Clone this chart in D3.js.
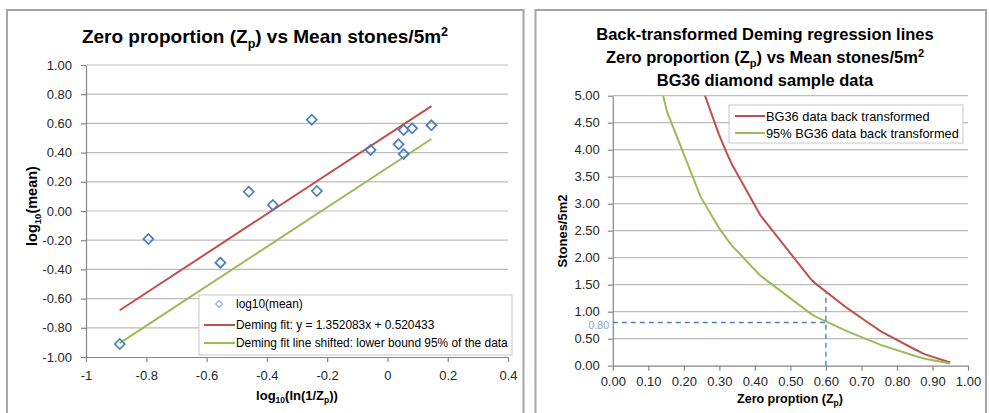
<!DOCTYPE html>
<html><head><meta charset="utf-8">
<script src="https://cdn.jsdelivr.net/npm/d3@7"></script>
<style>
body{margin:0;background:#fff}
svg text{font-family:"Liberation Sans",Arial,sans-serif}
</style>
</head><body>
<svg id="c" width="989" height="413"></svg>
<script>
// ---------- Left chart data ----------
const logX    = [-0.888,-0.793,-0.554,-0.460,-0.380,-0.251,-0.234,-0.056,0.037,0.054,0.054,0.082,0.146];
const logMean = [-0.911,-0.192,-0.354,0.132,0.041,0.625,0.137,0.418,0.457,0.555,0.390,0.566,0.587];
const fitX      = [-0.888, 0.146];
const demingY   = [-0.680, 0.718];
const shiftedY  = [-0.905, 0.493];
const leftXTicks = [-1,-0.8,-0.6,-0.4,-0.2,0,0.2,0.4];
const leftXLabels = ["-1","-0.8","-0.6","-0.4","-0.2","0","0.2","0.4"];
const leftYTicks = [-1,-0.8,-0.6,-0.4,-0.2,0,0.2,0.4,0.6,0.8,1];
const leftYLabels = ["-1.00","-0.80","-0.60","-0.40","-0.20","0.00","0.20","0.40","0.60","0.80","1.00"];
const leftLegend = ["log10(mean)","Deming fit: y = 1.352083x + 0.520433","Deming fit line shifted: lower bound 95% of the data"];

// ---------- Right chart data ----------
const zp       = [0.10,0.153,0.247,0.299,0.322,0.336,0.415,0.558,0.571,0.659,0.707,0.756,0.851,0.879,0.95];
const stonesFit= [10.2,7.76,5.23,4.28,3.92,3.72,2.79,1.60,1.52,1.07,0.85,0.63,0.30,0.21,0.06];
const stones95 = [6.10,4.70,3.13,2.55,2.34,2.22,1.67,0.96,0.91,0.64,0.51,0.38,0.18,0.13,0.04];
const rightXTicks = [0,0.1,0.2,0.3,0.4,0.5,0.6,0.7,0.8,0.9,1.0];
const rightXLabels = ["0.00","0.10","0.20","0.30","0.40","0.50","0.60","0.70","0.80","0.90","1.00"];
const rightYTicks = [0,0.5,1,1.5,2,2.5,3,3.5,4,4.5,5];
const rightYLabels = ["0.00","0.50","1.00","1.50","2.00","2.50","3.00","3.50","4.00","4.50","5.00"];
const refZp = [0.60], refStones = [0.80], refTop = [1.35];
const rightLegend = ["BG36 data back transformed","95% BG36 data back transformed"];

const RED = "#c0504d", GREEN = "#9bbb59", BLUE = "#4a7ebb", AX = "#868686", GRID = "#bdbdbd", TXT = "#262626";
const FONT = '"Liberation Sans",Arial,sans-serif';

const svg = d3.select("#c");

// panel borders
svg.append("rect").attr("x",7).attr("y",10).attr("width",516.5).attr("height",420)
  .attr("fill","#fff").attr("stroke","#a6a6a6").attr("stroke-width",2);
svg.append("rect").attr("x",535.5).attr("y",10).attr("width",450.5).attr("height",420)
  .attr("fill","#fff").attr("stroke","#a6a6a6").attr("stroke-width",2);

function styleAxis(g){
  g.select(".domain").attr("stroke",AX).attr("stroke-width",1.2);
  g.selectAll(".tick line").attr("stroke",AX).attr("stroke-width",1.2);
  g.selectAll(".tick text").attr("fill",TXT).attr("font-size",13).attr("font-family",FONT);
}

// ================= LEFT CHART =================
const xL = d3.scaleLinear().domain([-1,0.4]).range([86,508]);
const yL = d3.scaleLinear().domain([-1,1]).range([357,65]);

svg.append("g").selectAll("line").data(leftYTicks.slice(1)).join("line")
  .attr("x1",xL(-1)).attr("x2",xL(0.4)).attr("y1",d=>yL(d)).attr("y2",d=>yL(d))
  .attr("stroke",GRID).attr("stroke-width",1.2);

const gxL = svg.append("g").attr("transform",`translate(0,${yL(-1)})`)
  .call(d3.axisBottom(xL).tickValues(leftXTicks).tickFormat((d,i)=>leftXLabels[i]).tickSize(5).tickSizeOuter(0).tickPadding(9));
styleAxis(gxL);
const gyL = svg.append("g").attr("transform",`translate(${xL(-1)},0)`)
  .call(d3.axisLeft(yL).tickValues(leftYTicks).tickFormat((d,i)=>leftYLabels[i]).tickSize(5).tickSizeOuter(0).tickPadding(9));
styleAxis(gyL);

const lineL = d3.line().x(d=>xL(d[0])).y(d=>yL(d[1]));
svg.append("path").attr("d",lineL(fitX.map((x,i)=>[x,demingY[i]]))).attr("stroke",RED).attr("stroke-width",2).attr("fill","none");
svg.append("path").attr("d",lineL(fitX.map((x,i)=>[x,shiftedY[i]]))).attr("stroke",GREEN).attr("stroke-width",2).attr("fill","none");

const diamond = d3.symbol().type(d3.symbolDiamond2).size(64);
svg.append("g").selectAll("path").data(logX.map((x,i)=>[x,logMean[i]])).join("path")
  .attr("d",diamond).attr("transform",d=>`translate(${xL(d[0])},${yL(d[1])})`)
  .attr("fill","none").attr("stroke",BLUE).attr("stroke-width",1.7);

// title
const tL = svg.append("text").attr("x",265).attr("y",43).attr("text-anchor","middle")
  .attr("font-weight","bold").attr("font-size",19).attr("fill","#000");
tL.append("tspan").text("Zero proportion (Z");
tL.append("tspan").attr("font-size",12.5).attr("dy",4.5).text("p");
tL.append("tspan").attr("dy",-4.5).text(") vs Mean stones/5m");
tL.append("tspan").attr("font-size",12.5).attr("dy",-7.5).text("2");

// axis titles
const xtL = svg.append("text").attr("x",297).attr("y",400).attr("text-anchor","middle")
  .attr("font-weight","bold").attr("font-size",13).attr("fill","#000");
xtL.append("tspan").text("log");
xtL.append("tspan").attr("font-size",8.5).attr("dy",3).text("10");
xtL.append("tspan").attr("dy",-3).text("(ln(1/Z");
xtL.append("tspan").attr("font-size",8.5).attr("dy",3).text("p");
xtL.append("tspan").attr("dy",-3).text("))");

const ytL = svg.append("text").attr("transform","translate(37,206) rotate(-90)").attr("text-anchor","middle")
  .attr("font-weight","bold").attr("font-size",14.5).attr("fill","#000");
ytL.append("tspan").text("log");
ytL.append("tspan").attr("font-size",9.5).attr("dy",3.5).text("10");
ytL.append("tspan").attr("dy",-3.5).text("(mean)");

// legend
const lgL = svg.append("g");
lgL.append("rect").attr("x",199).attr("y",295).attr("width",313).attr("height",60)
  .attr("fill","#fff").attr("stroke","#c8c8c8").attr("stroke-width",1);
lgL.append("path").attr("d",d3.symbol().type(d3.symbolDiamond2).size(30)).attr("transform","translate(219,304)")
  .attr("fill","none").attr("stroke","#7fa6d6").attr("stroke-width",1.1);
lgL.append("line").attr("x1",204).attr("x2",235).attr("y1",325).attr("y2",325).attr("stroke",RED).attr("stroke-width",2);
lgL.append("line").attr("x1",204).attr("x2",235).attr("y1",343).attr("y2",343).attr("stroke",GREEN).attr("stroke-width",2);
[308,329,347].forEach((y,i)=>lgL.append("text").attr("x",236).attr("y",y).attr("font-size",11.9).attr("fill","#000").text(leftLegend[i]));

// ================= RIGHT CHART =================
const xR = d3.scaleLinear().domain([0,1]).range([612.8,968]);
const yR = d3.scaleLinear().domain([0,5]).range([365.7,95.7]);

svg.append("g").selectAll("line").data(rightYTicks.slice(1)).join("line")
  .attr("x1",xR(0)).attr("x2",xR(1)).attr("y1",d=>yR(d)).attr("y2",d=>yR(d))
  .attr("stroke",GRID).attr("stroke-width",1.2);

const gxR = svg.append("g").attr("transform",`translate(0,${yR(0)})`)
  .call(d3.axisBottom(xR).tickValues(rightXTicks).tickFormat((d,i)=>rightXLabels[i]).tickSize(5).tickSizeOuter(0).tickPadding(6));
styleAxis(gxR);
const gyR = svg.append("g").attr("transform",`translate(${xR(0)},0)`)
  .call(d3.axisLeft(yR).tickValues(rightYTicks).tickFormat((d,i)=>rightYLabels[i]).tickSize(5).tickSizeOuter(0).tickPadding(8));
styleAxis(gyR);

svg.append("clipPath").attr("id","clipR").append("rect")
  .attr("x",xR(0)).attr("y",yR(5)).attr("width",xR(1)-xR(0)).attr("height",yR(0)-yR(5));

const lineR = d3.line().x(d=>xR(d[0])).y(d=>yR(d[1]));
const gc = svg.append("g").attr("clip-path","url(#clipR)");
gc.append("path").attr("d",lineR(zp.map((z,i)=>[z,stonesFit[i]]))).attr("stroke",RED).attr("stroke-width",2).attr("fill","none");
gc.append("path").attr("d",lineR(zp.map((z,i)=>[z,stones95[i]]))).attr("stroke",GREEN).attr("stroke-width",2).attr("fill","none");

// reference dashed lines
svg.append("line").attr("x1",xR(0)).attr("x2",xR(refZp[0])).attr("y1",yR(refStones[0])).attr("y2",yR(refStones[0]))
  .attr("stroke","#4f81bd").attr("stroke-width",1.4).attr("stroke-dasharray","5,4");
svg.append("line").attr("x1",xR(refZp[0])).attr("x2",xR(refZp[0])).attr("y1",yR(0)).attr("y2",yR(refTop[0]))
  .attr("stroke","#4f81bd").attr("stroke-width",1.4).attr("stroke-dasharray","5,4");
svg.append("text").attr("x",609).attr("y",yR(refStones[0])+6.5).attr("text-anchor","end")
  .attr("font-size",10.5).attr("fill","#7ea3d3").text(refStones[0].toFixed(2));

// title
const tR = svg.append("g").attr("font-weight","bold").attr("font-size",16.5).attr("fill","#000");
tR.append("text").attr("x",765).attr("y",40).attr("text-anchor","middle").text("Back-transformed Deming regression lines");
const t2 = tR.append("text").attr("x",765).attr("y",63).attr("text-anchor","middle");
t2.append("tspan").text("Zero proportion (Z");
t2.append("tspan").attr("font-size",11).attr("dy",4).text("p");
t2.append("tspan").attr("dy",-4).text(") vs Mean stones/5m");
t2.append("tspan").attr("font-size",11).attr("dy",-6.5).text("2");
tR.append("text").attr("x",765).attr("y",86).attr("text-anchor","middle").text("BG36 diamond sample data");

// axis titles
const xtR = svg.append("text").attr("x",790).attr("y",403).attr("text-anchor","middle")
  .attr("font-weight","bold").attr("font-size",12.5).attr("fill","#000");
xtR.append("tspan").text("Zero proption (Z");
xtR.append("tspan").attr("font-size",8.5).attr("dy",3).text("p");
xtR.append("tspan").attr("dy",-3).text(")");

svg.append("text").attr("transform","translate(567,231) rotate(-90)").attr("text-anchor","middle")
  .attr("font-weight","bold").attr("font-size",13).attr("fill","#000").text("Stones/5m2");

// legend
const lgR = svg.append("g");
lgR.append("rect").attr("x",729).attr("y",105).attr("width",234).attr("height",38)
  .attr("fill","#fff").attr("stroke","#c8c8c8").attr("stroke-width",1);
lgR.append("line").attr("x1",735).attr("x2",765).attr("y1",116).attr("y2",116).attr("stroke",RED).attr("stroke-width",2);
lgR.append("line").attr("x1",735).attr("x2",765).attr("y1",133).attr("y2",133).attr("stroke",GREEN).attr("stroke-width",2);
[120.5,137.5].forEach((y,i)=>lgR.append("text").attr("x",766).attr("y",y).attr("font-size",12.8).attr("fill","#000").text(rightLegend[i]));
</script>
</body></html>
